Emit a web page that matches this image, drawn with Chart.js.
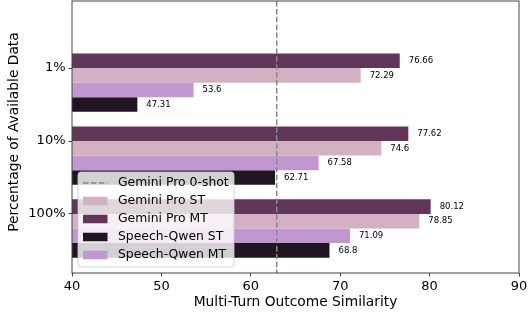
<!DOCTYPE html>
<html>
<head>
<meta charset="utf-8">
<title>Multi-Turn Outcome Similarity</title>
<script src="https://cdn.jsdelivr.net/npm/chart.js"></script>
<style>
  body { margin: 0; background: #fff; }
</style>
</head>
<body>
<canvas id="chart" width="529" height="315"></canvas>
<script>
// data
const categories = ['1%', '10%', '100%'];
const geminiMT = [76.66, 77.62, 80.12];
const geminiST = [72.29, 74.6, 78.85];
const qwenMT = [53.6, 67.58, 71.09];
const qwenST = [47.31, 62.71, 68.8];
const zeroShot = 62.9;
const xTicks = [40, 50, 60, 70, 80, 90];

const colors = {
  geminiMT: '#613659',
  geminiST: '#d3b1c2',
  qwenMT: '#c197d2',
  qwenST: '#211522'
};

// top-to-bottom order inside each group
const series = [
  { label: 'Gemini Pro MT', values: geminiMT, color: colors.geminiMT },
  { label: 'Gemini Pro ST', values: geminiST, color: colors.geminiST },
  { label: 'Speech-Qwen MT', values: qwenMT, color: colors.qwenMT },
  { label: 'Speech-Qwen ST', values: qwenST, color: colors.qwenST }
];
const legendOrder = ['Gemini Pro ST', 'Gemini Pro MT', 'Speech-Qwen ST', 'Speech-Qwen MT'];
const yTitle = 'Percentage of Available Data';

// groups sit one bar below the tick (as in the original plot)
const groupShift = 0.2;

Chart.defaults.font.family = 'DejaVu Sans';
Chart.defaults.color = '#000';

const lineColor = '#444';
const tickSize = 13;
const titleSize = 13.8;
const legendSize = 12.4;

const extras = {
  id: 'extras',
  afterDatasetsDraw(chart) {
    const ctx = chart.ctx;
    const area = chart.chartArea;
    const x = chart.scales.x;

    // value labels
    ctx.save();
    ctx.font = '8.5px "DejaVu Sans"';
    ctx.fillStyle = '#000';
    ctx.textBaseline = 'middle';
    ctx.textAlign = 'left';
    chart.data.datasets.forEach((ds, di) => {
      chart.getDatasetMeta(di).data.forEach((bar, i) => {
        ctx.fillText(String(series[di].values[i]), bar.x + 9, bar.y);
      });
    });
    ctx.restore();

    // zero-shot reference line
    const px = x.getPixelForValue(zeroShot);
    ctx.save();
    ctx.strokeStyle = '#888';
    ctx.lineWidth = 1.5;
    ctx.setLineDash([5.5, 2.4]);
    ctx.beginPath();
    ctx.moveTo(px, area.top);
    ctx.lineTo(px, area.bottom);
    ctx.stroke();
    ctx.restore();
  },
  afterDraw(chart) {
    const ctx = chart.ctx;
    const area = chart.chartArea;

    // frame
    ctx.save();
    ctx.strokeStyle = lineColor;
    ctx.lineWidth = 1;
    ctx.strokeRect(area.left, area.top, area.right - area.left, area.bottom - area.top);
    ctx.restore();

    // y title (sits a little above the axis centre in the original)
    ctx.save();
    ctx.font = titleSize + 'px "DejaVu Sans"';
    ctx.fillStyle = '#000';
    ctx.textAlign = 'center';
    ctx.textBaseline = 'middle';
    ctx.translate(14, 132);
    ctx.rotate(-Math.PI / 2);
    ctx.fillText(yTitle, 0, 0);
    ctx.restore();

    // legend box, lower left inside the plot
    const bw = 156, bh = 95;
    const bx = area.left + 6, by = area.bottom - 6 - bh;
    ctx.save();
    ctx.beginPath();
    ctx.roundRect(bx, by, bw, bh, 3);
    ctx.fillStyle = 'rgba(255,255,255,0.8)';
    ctx.fill();
    ctx.strokeStyle = 'rgba(204,204,204,0.8)';
    ctx.lineWidth = 1;
    ctx.stroke();

    ctx.font = legendSize + 'px "DejaVu Sans"';
    ctx.textBaseline = 'middle';
    ctx.fillStyle = '#000';
    const hx = bx + 5, hw = 24.5, tx = bx + 40;
    let y = by + 11;

    ctx.strokeStyle = '#888';
    ctx.lineWidth = 1.5;
    ctx.setLineDash([5.5, 2.4]);
    ctx.beginPath();
    ctx.moveTo(hx, y);
    ctx.lineTo(hx + hw, y);
    ctx.stroke();
    ctx.setLineDash([]);
    ctx.fillText('Gemini Pro 0-shot', tx, y);

    legendOrder.forEach(name => {
      y += 18;
      const s = series.find(d => d.label === name);
      ctx.fillStyle = s.color;
      ctx.fillRect(hx, y - 4.25, hw, 8.5);
      ctx.fillStyle = '#000';
      ctx.fillText(name, tx, y);
    });
    ctx.restore();
  }
};

new Chart(document.getElementById('chart'), {
  type: 'bar',
  data: {
    datasets: series.map(s => ({
      label: s.label,
      data: s.values.map((v, i) => ({ x: v, y: i + groupShift })),
      backgroundColor: s.color,
      borderWidth: 0,
      barPercentage: 1,
      categoryPercentage: 0.8
    }))
  },
  options: {
    indexAxis: 'y',
    responsive: false,
    animation: false,
    layout: { padding: { top: 1, right: 10, left: 0, bottom: 0 } },
    plugins: {
      legend: { display: false },
      tooltip: { enabled: false }
    },
    scales: {
      x: {
        type: 'linear',
        position: 'bottom',
        min: 40,
        max: 90,
        afterBuildTicks: s => { s.ticks = xTicks.map(v => ({ value: v })); },
        afterFit: s => { s.height = 42; s.paddingLeft = 0; s.paddingRight = 0; },
        grid: { drawOnChartArea: false, drawTicks: true, tickLength: 3.5, color: lineColor },
        border: { display: false },
        ticks: { font: { size: tickSize }, color: '#000', padding: 2, maxRotation: 0 },
        title: {
          display: true,
          text: 'Multi-Turn Outcome Similarity',
          font: { size: titleSize },
          color: '#000',
          padding: { top: 4.5, bottom: 4.5 }
        }
      },
      y: {
        type: 'linear',
        reverse: true,
        offset: false,
        min: -0.92,
        max: 2.81,
        afterBuildTicks: s => { s.ticks = categories.map((c, i) => ({ value: i })); },
        afterFit: s => { s.width = 72; s.paddingTop = 0; s.paddingBottom = 0; },
        grid: { offset: false, drawOnChartArea: false, drawTicks: true, tickLength: 3.5, color: lineColor },
        border: { display: false },
        ticks: {
          font: { size: tickSize },
          color: '#000',
          padding: 3,
          callback: v => categories[v]
        },
        title: { display: false }
      }
    }
  },
  plugins: [extras]
});
</script>
</body>
</html>
